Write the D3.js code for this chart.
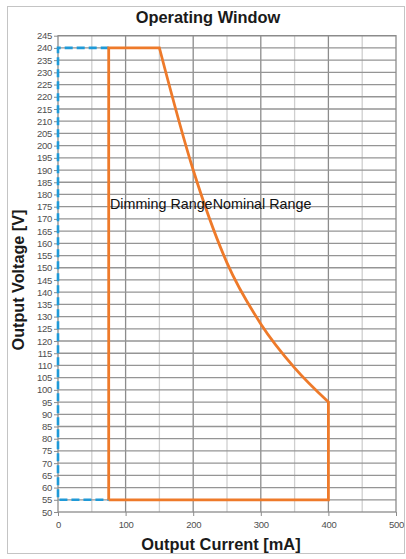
<!DOCTYPE html>
<html>
<head>
<meta charset="utf-8">
<script src="https://cdn.jsdelivr.net/npm/d3@7"></script>
<style>
  body { margin: 0; background: #fff; }
  svg { display: block; font-family: "Liberation Sans", Arial, sans-serif; }
</style>
</head>
<body>
<svg id="chart" width="406" height="559"></svg>
<script>
// data
const currentTicks = [0, 100, 200, 300, 400, 500];
const voltageTicks = d3.range(50, 246, 5);
const envelopeCurrent = [75, 75, 150, 200, 250, 300, 350, 400, 400, 75];
const envelopeVoltage = [55, 240, 240, 190, 152, 127, 109, 95, 55, 55];
const dimCurrent = [75, 0, 0, 75];
const dimVoltage = [240, 240, 55, 55];
const regionNames = ['Dimming Range', 'Nominal Range'];
const regionCurrent = [77, 229];
const regionVoltage = [176, 176];

const svg = d3.select('#chart');
const plotLeft = 58, plotRight = 396, plotTop = 35.7, plotBottom = 512;

const x = d3.scaleLinear().domain([0, 500]).range([plotLeft, plotRight]);
const y = d3.scaleLinear().domain([50, 245]).range([plotBottom, plotTop]);

// outer frame
svg.append('rect')
    .attr('x', 7.5).attr('y', 6.5)
    .attr('width', 397).attr('height', 547)
    .attr('fill', 'none').attr('stroke', '#c4c4c4');

// vertical grid (every 50 mA, lighter at the halves)
svg.append('g')
    .selectAll('line')
    .data(d3.range(50, 500, 50))
    .enter().append('line')
    .attr('x1', d => x(d)).attr('x2', d => x(d))
    .attr('y1', plotTop).attr('y2', plotBottom)
    .attr('stroke', d => d % 100 === 0 ? '#8c8c8c' : '#cfcfcf')
    .attr('stroke-width', 1.3);

// horizontal grid
svg.append('g')
    .selectAll('line')
    .data(voltageTicks.slice(1))
    .enter().append('line')
    .attr('x1', plotLeft).attr('x2', plotRight)
    .attr('y1', d => y(d)).attr('y2', d => y(d))
    .attr('stroke', '#959595')
    .attr('stroke-width', 1.3);

svg.append('rect')
    .attr('x', plotLeft).attr('y', plotTop)
    .attr('width', plotRight - plotLeft).attr('height', plotBottom - plotTop)
    .attr('fill', 'none').attr('stroke', '#8c8c8c').attr('stroke-width', 1.3);

// axes
const yAxis = svg.append('g')
    .attr('transform', `translate(${plotLeft},0)`)
    .call(d3.axisLeft(y).tickValues(voltageTicks).tickSize(4).tickPadding(2));
const xAxis = svg.append('g')
    .attr('transform', `translate(0,${plotBottom})`)
    .call(d3.axisBottom(x).tickValues(currentTicks).tickSize(4).tickPadding(5));
[xAxis, yAxis].forEach(a => {
    a.select('.domain').remove();
    a.selectAll('.tick line').attr('stroke', '#8c8c8c');
    a.selectAll('.tick text')
        .attr('fill', '#505050')
        .style('font-size', '9.5px')
        .style('font-family', '"Liberation Sans", Arial, sans-serif')
        .style('letter-spacing', '-0.3px');
});

const line = d3.line()
    .x(i => x(i[0]))
    .y(i => y(i[1]));

// dimming limits
svg.append('path')
    .datum(dimCurrent.map((c, i) => [c, dimVoltage[i]]))
    .attr('d', line)
    .attr('fill', 'none')
    .attr('stroke', '#1f9ad8')
    .attr('stroke-width', 2.6)
    .attr('stroke-dasharray', '8,4');

// operating envelope
const env = envelopeCurrent.map((c, i) => [c, envelopeVoltage[i]]);
const curve = env.slice(2, 8);
const smooth = d3.line().x(i => x(i[0])).y(i => y(i[1])).curve(d3.curveMonotoneX);
svg.append('path')
    .attr('d', line(env.slice(0, 3)) + smooth(curve).replace(/^M/, 'L') + line(env.slice(7)).replace(/^M/, 'L'))
    .attr('fill', 'none')
    .attr('stroke', '#ee7a2a')
    .attr('stroke-width', 2.8)
    .attr('stroke-linejoin', 'miter');

// region labels
svg.append('g')
    .selectAll('text')
    .data(regionNames)
    .enter().append('text')
    .attr('x', (d, i) => x(regionCurrent[i]))
    .attr('y', (d, i) => y(regionVoltage[i]))
    .attr('dy', '0.35em')
    .attr('font-size', 14.3)
    .attr('fill', '#111')
    .text(d => d);

// titles
svg.append('text')
    .attr('x', 208).attr('y', 23)
    .attr('text-anchor', 'middle')
    .attr('font-size', 16.4).attr('font-weight', 'bold')
    .attr('fill', '#1a1a1a')
    .text('Operating Window');

svg.append('text')
    .attr('x', 221).attr('y', 550)
    .attr('text-anchor', 'middle')
    .attr('font-size', 16.4).attr('font-weight', 'bold')
    .attr('fill', '#1a1a1a')
    .text('Output Current [mA]');

svg.append('text')
    .attr('transform', 'translate(24,280) rotate(-90)')
    .attr('text-anchor', 'middle')
    .attr('font-size', 16.2).attr('font-weight', 'bold')
    .attr('fill', '#1a1a1a')
    .text('Output Voltage [V]');
</script>
</body>
</html>
